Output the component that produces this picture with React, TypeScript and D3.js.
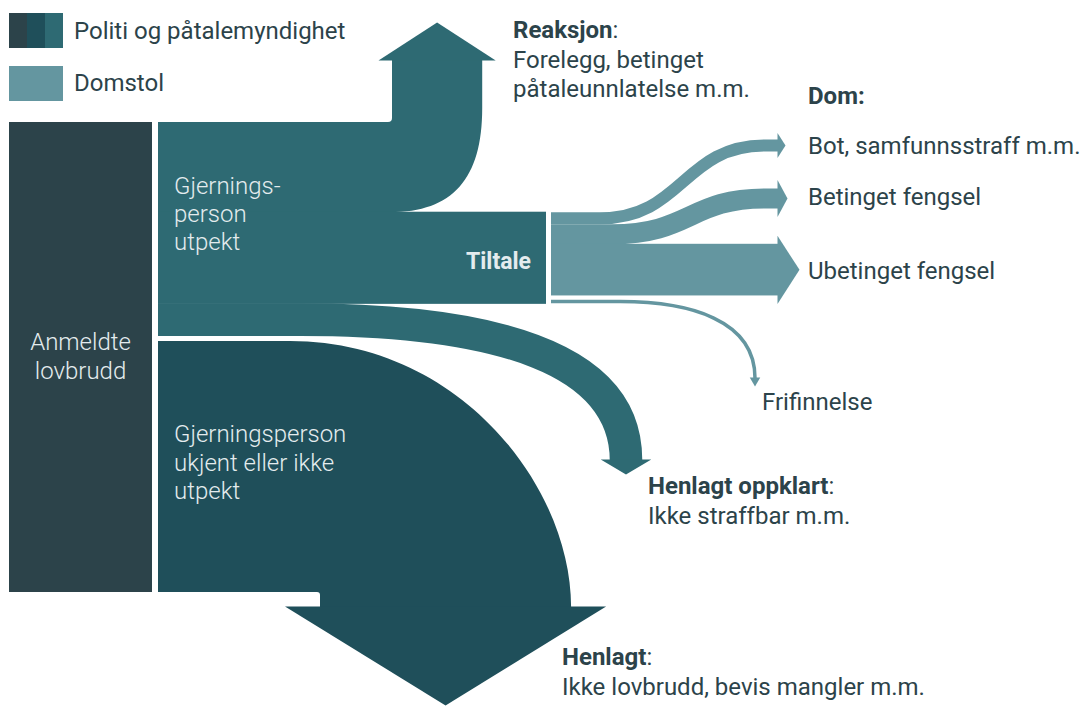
import * as d3 from "d3";

// andel av anmeldte lovbrudd (prosent), lest av figuren
const sourceLabels = ["Gjerningsperson utpekt", "Gjerningsperson ukjent eller ikke utpekt"];
const sourceShares = [46, 54];
const utpektLabels = ["Reaksjon", "Tiltale", "Henlagt oppklart"];
const utpektShares = [19.4, 19.6, 7.0];
const domLabels = ["Bot, samfunnsstraff m.m.", "Betinget fengsel", "Ubetinget fengsel", "Frifinnelse"];
const domShares = [2.6, 4.3, 11.0, 0.75];
const legendLabels = ["Politi og påtalemyndighet", "Domstol"];

const W = 1087;
const H = 706;
const C = {
  anmeldt: "#2c434a",
  ukjent: "#1f4f5a",
  utpekt: "#2e6a73",
  dom: "#6496a0",
  text: "#2c434a",
  light: "#e4ecee",
};
const FONT = "Roboto, 'Noto Sans', sans-serif";

// layout
const top = 122;
const col = { barL: 9, barR: 152, flowL: 158, tiltaleR: 546, domL: 551, domHead: 778 };

function head(x: number, y: number, half: number, ext: number, len: number, dir: "up" | "down" | "right") {
  if (dir === "right") return `M${x},${y - half - ext} L${x + len},${y} L${x},${y + half + ext} Z`;
  const s = dir === "up" ? -1 : 1;
  return `M${x - half - ext},${y} L${x},${y + s * len} L${x + half + ext},${y} Z`;
}

export default function App() {
  const y = d3.scaleLinear().domain([0, 100]).range([0, 465]);

  const [utpektH, ukjentH] = sourceShares.map(y);
  const utpektBot = top + utpektH;
  const ukjentTop = utpektBot + 5;
  const ukjentBot = ukjentTop + ukjentH;

  const [reakW, tiltW, oppW] = utpektShares.map(y);
  const reakBot = top + reakW;
  const tiltBot = reakBot + tiltW;

  // Reaksjon: opp
  const rx0 = 392;
  const rx1 = rx0 + reakW;
  const rBase = 60;
  const vEnd = 108;
  const oS = 390;
  const k = 0.68;
  const reakPath =
    `M${col.flowL},${top} H${rx0 - 4} Q${rx0},${top} ${rx0},${top - 4} V${rBase} ` +
    `H${rx1} V${vEnd} C${rx1},${vEnd + k * (reakBot - vEnd)} ${oS + k * (rx1 - oS)},${reakBot} ${oS},${reakBot} ` +
    `H${col.flowL} Z`;
  const reakHead = head((rx0 + rx1) / 2, rBase + 0.5, reakW / 2, 13.5, 38, "up");

  // Henlagt: ned
  const hx0 = 320;
  const hx1 = hx0 + ukjentH;
  const hBase = 607;
  const hS = 290;
  const henPath =
    `M${col.flowL},${ukjentTop} H${hS} C${hS + 170},${ukjentTop} ${hx1},${hBase - 120} ${hx1},${hBase} ` +
    `H${hx0} V${ukjentBot + 3} Q${hx0},${ukjentBot} ${hx0 - 3},${ukjentBot} H${col.flowL} Z`;
  const henHead = head((hx0 + hx1) / 2, hBase - 0.5, ukjentH / 2, 35, 99, "down");

  // Henlagt oppklart
  const oppC = tiltBot + oppW / 2;
  const oppX = 626;
  const oppBase = 460;
  const oppPath = `M${col.flowL},${oppC} H300 C500,${oppC} ${oppX},360 ${oppX},${oppBase}`;
  const oppHead = head(oppX, oppBase - 0.5, oppW / 2, 9, 15, "down");

  // Dom
  const [botW, betW, ubetW, friW] = domShares.map(y);
  const botY0 = reakBot + botW / 2;
  const betY0 = reakBot + botW + betW / 2;
  const ubetTop = reakBot + botW + betW;
  const ubetC = ubetTop + ubetW / 2;
  const friC = tiltBot - friW / 2;
  const botY1 = 145.5;
  const betY1 = 198.5;
  const botPath = `M${col.domL},${botY0} H600 C683,${botY0} 683,${botY1} 765,${botY1} H${col.domHead}`;
  const betPath = `M${col.domL},${betY0} H612 C690,${betY0} 690,${betY1} 765,${betY1} H${col.domHead}`;
  const friPath = `M${col.domL},${friC} H620 C690,${friC} 755,320 755,378`;

  const lightText = { fill: C.light, fontWeight: 300, fontSize: 24 } as const;
  const darkText = { fill: C.text, fontSize: 24 } as const;

  return (
    <svg
      width={W}
      height={H}
      style={{ position: "fixed", left: 0, top: 0, background: "#fff" }}
      fontFamily={FONT}
    >
      {/* legend */}
      <g>
        {[C.anmeldt, C.ukjent, C.utpekt].map((c, i) => (
          <rect key={c} x={9 + i * 18} y={13} width={18} height={35} fill={c} />
        ))}
        <rect x={9} y={66} width={54} height={35} fill={C.dom} />
        <text x={74} y={39} {...darkText}>{legendLabels[0]}</text>
        <text x={74} y={91} {...darkText}>{legendLabels[1]}</text>
      </g>

      {/* anmeldte lovbrudd */}
      <rect x={col.barL} y={top} width={col.barR - col.barL} height={ukjentBot - top} fill={C.anmeldt} />
      <text textAnchor="middle" {...lightText}>
        <tspan x={(col.barL + col.barR) / 2} y={350}>Anmeldte</tspan>
        <tspan x={(col.barL + col.barR) / 2} y={379}>lovbrudd</tspan>
      </text>

      {/* politi */}
      <path d={henPath} fill={C.ukjent} />
      <path d={henHead} fill={C.ukjent} />
      <path d={oppPath} fill="none" stroke={C.utpekt} strokeWidth={oppW} />
      <path d={oppHead} fill={C.utpekt} />
      <path d={reakPath} fill={C.utpekt} />
      <path d={reakHead} fill={C.utpekt} />
      <rect x={col.flowL} y={reakBot - 0.5} width={col.tiltaleR - col.flowL} height={tiltW + 1} fill={C.utpekt} />

      {/* domstol */}
      <path d={botPath} fill="none" stroke={C.dom} strokeWidth={botW} />
      <path d={head(col.domHead - 0.5, botY1, botW / 2, 6.5, 8, "right")} fill={C.dom} />
      <path d={betPath} fill="none" stroke={C.dom} strokeWidth={betW} />
      <path d={head(col.domHead - 0.5, betY1, betW / 2, 8.5, 10, "right")} fill={C.dom} />
      <rect x={col.domL} y={ubetTop - 0.5} width={col.domHead - col.domL} height={ubetW + 0.5} fill={C.dom} />
      <path d={head(col.domHead - 0.5, ubetC, ubetW / 2, 8.5, 22, "right")} fill={C.dom} />
      <path d={friPath} fill="none" stroke={C.dom} strokeWidth={friW} />
      <path d={head(755, 377.5, friW / 2, 3.5, 9, "down")} fill={C.dom} />

      {/* etiketter i blokkene */}
      <text {...lightText}>
        <tspan x={174} y={194}>Gjernings-</tspan>
        <tspan x={174} y={222}>person</tspan>
        <tspan x={174} y={250}>utpekt</tspan>
      </text>
      <text {...lightText}>
        <tspan x={174} y={442}>Gjerningsperson</tspan>
        <tspan x={174} y={471}>ukjent eller ikke</tspan>
        <tspan x={174} y={499}>utpekt</tspan>
      </text>
      <text x={531} y={269} textAnchor="end" fill={C.light} fontWeight={700} fontSize={23}>
        {utpektLabels[1]}
      </text>

      {/* utfall */}
      <text {...darkText}>
        <tspan x={513} y={38} fontWeight={700}>{utpektLabels[0]}</tspan>
        <tspan>:</tspan>
        <tspan x={513} y={68}>Forelegg, betinget</tspan>
        <tspan x={513} y={97}>påtaleunnlatelse m.m.</tspan>
      </text>
      <text x={808} y={104} {...darkText} fontWeight={700}>Dom:</text>
      <text x={808} y={154} {...darkText}>{domLabels[0]}</text>
      <text x={808} y={205} {...darkText}>{domLabels[1]}</text>
      <text x={808} y={279} {...darkText}>{domLabels[2]}</text>
      <text x={762} y={410} {...darkText}>{domLabels[3]}</text>
      <text {...darkText}>
        <tspan x={648} y={494} fontWeight={700}>{utpektLabels[2]}</tspan>
        <tspan>:</tspan>
        <tspan x={648} y={524}>Ikke straffbar m.m.</tspan>
      </text>
      <text {...darkText}>
        <tspan x={562} y={665} fontWeight={700}>Henlagt</tspan>
        <tspan>:</tspan>
        <tspan x={562} y={695}>Ikke lovbrudd, bevis mangler m.m.</tspan>
      </text>
      <title>{sourceLabels.join(" / ")}</title>
    </svg>
  );
}
